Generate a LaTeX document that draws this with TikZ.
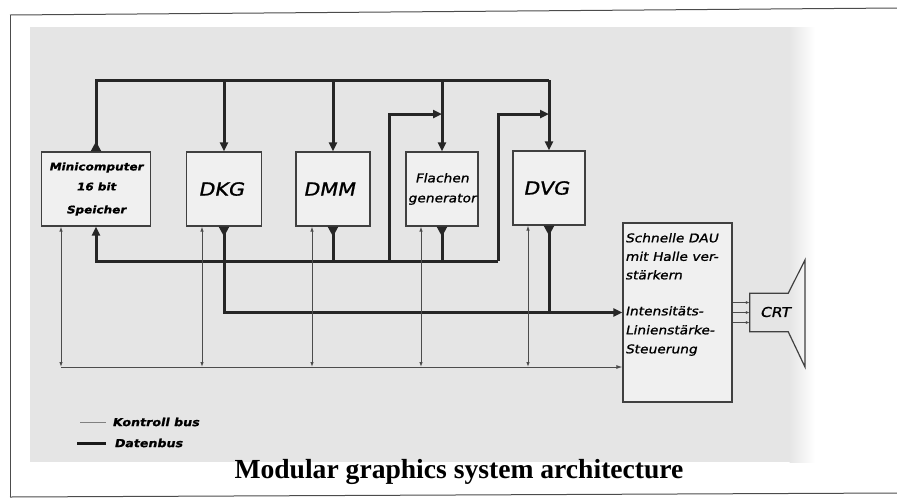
\documentclass[tikz,border=0pt]{standalone}
\usepackage{fontspec}
\setmainfont{Liberation Serif}
\newfontfamily\hand[FakeStretch=1.15,FakeSlant=0.2,FakeBold=1.2]{DejaVu Sans}
\usetikzlibrary{arrows.meta,decorations.markings,calc}
\begin{document}
\begin{tikzpicture}[x=1pt,y=-1pt,
  box/.style={draw=black!75, line width=1.2pt, fill=black!6, minimum height=74pt, inner sep=0pt},
  data/.style={line width=3pt, draw=black!85},
  ctrl/.style={line width=0.9pt, draw=black!70},
  din/.style={-{Triangle[length=9pt,width=8pt]}},
  outmark/.style={postaction={decorate,decoration={markings,mark=at position 10pt with {\arrow{Triangle[length=10pt,width=10pt]}}}}},
  cin/.style={{Latex[length=5pt,width=3.5pt]}-{Latex[length=5pt,width=3.5pt]}},
  big/.style={font=\hand\fontsize{18}{20}\selectfont},
  small/.style={font=\hand\fontsize{12}{20}\selectfont},
]
\useasboundingbox (0,0) rectangle (897,499);
% background
\fill[black!10] (30,27) rectangle (790,462);
\shade[left color=black!10, right color=white] (789.5,27) rectangle (815,462);
% frame
\draw[line width=1pt, black!70] (10,15) -- (10,497);
\draw[line width=1pt, black!70] (10,15) -- (897,8);
\draw[line width=1pt, black!70] (10,497) -- (897,493);

% boxes
\node[box, minimum width=109pt, align=center, font=\hand\bfseries\fontsize{10.5}{19}\selectfont] (mc) at (96,189) {Minicomputer\\[1pt]16 bit\\[4pt]Speicher};
\node[box, minimum width=75pt, big] (dkg) at (224,189) {\hspace*{-6pt}DKG};
\node[box, minimum width=74pt, big] (dmm) at (333,189) {\hspace*{-8pt}DMM};
\node[box, minimum width=72pt, small, align=center] (fg) at (442,189) {Flachen\\generator};
\node[box, minimum width=72pt, big] (dvg) at (549,188) {\hspace*{-6pt}DVG};
\node[box, minimum width=109pt, minimum height=179pt] (dau) at (677.5,312.5) {};
\node[anchor=north west, align=left, inner sep=0pt, font=\hand\fontsize{12}{18.5}\selectfont] (daut) at (625,233) {Schnelle DAU\\mit Halle ver-\\stärkern};
\node[anchor=north west, align=left, inner sep=0pt, font=\hand\fontsize{12}{19}\selectfont] (daub) at (625,306) {Intensitäts-\\Linienstärke-\\Steuerung};

% CRT
\node[minimum width=38pt, minimum height=38pt, inner sep=0pt] (crt) at (769,312.5) {};
\draw[line width=1.2pt, black!75] (crt.north east) -- (crt.north west) -- (crt.south west) -- (crt.south east) -- (805,367) -- (805,260) -- cycle;
\node[font=\hand\fontsize{13.5}{15}\selectfont] (crtt) at (775,312) {CRT};
\foreach \d in {-10,0,10}
  \draw[ctrl,-{Latex[length=4pt,width=3pt]}] ($(dau.east)+(0,\d)$) -- ($(crt.west)+(0,\d)$);

% bus levels
\coordinate (ytop) at (0,80);
\coordinate (yret) at (0,261);
\coordinate (yfeed) at (0,114);
\coordinate (yctl) at (0,367);
\coordinate (xf) at (389,0);
\coordinate (xe) at (498,0);

% top data bus
\draw[data,outmark] (mc.north) -- (mc.north |- ytop) -- (dvg.north |- ytop);
\foreach \n in {dkg,dmm,fg,dvg}
  \draw[data,din] (\n.north |- ytop) -- (\n.north);

% return data bus
\draw[data,din] (xe |- yret) -- (mc.south |- yret) -- (mc.south);
\draw[data,din] (xf |- yret) -- (xf |- yfeed) -- (fg.north |- yfeed);
\draw[data,din] (xe |- yret) -- (xe |- yfeed) -- (dvg.north |- yfeed);
\draw[data,outmark] (dmm.south) -- (dmm.south |- yret);
\draw[data,outmark] (fg.south) -- (fg.south |- yret);

% data bus to DAU
\draw[data,outmark,din] (dkg.south) -- (dkg.south |- dau.west) -- (dau.west);
\draw[data,outmark] (dvg.south) -- (dvg.south |- dau.west);

% control bus
\foreach \n/\x in {mc/61,dkg/202,dmm/312,fg/421,dvg/528}{
  \coordinate (k\n) at (\x,367);
  \draw[ctrl,cin] (k\n |- \n.south) -- (k\n);
}
\draw[ctrl,-{Latex[length=6pt,width=4pt]}] (kmc) -- (dau.west |- kmc);

% legend
\node[anchor=west, inner sep=0pt, font=\hand\bfseries\fontsize{11}{12}\selectfont] (lk) at (112,422) {Kontroll bus};
\node[anchor=west, inner sep=0pt, font=\hand\bfseries\fontsize{11}{12}\selectfont] (ld) at (114,443) {Datenbus};
\draw[line width=1pt, black!50] ([xshift=-32pt]lk.west) -- ([xshift=-6pt]lk.west);
\draw[line width=3pt, black!90] ([xshift=-37pt]ld.west) -- ([xshift=-8pt]ld.west);

% title
\node[font=\bfseries\fontsize{27.6}{30}\selectfont] (title) at (459,472) {Modular graphics system architecture};
\end{tikzpicture}
\end{document}
